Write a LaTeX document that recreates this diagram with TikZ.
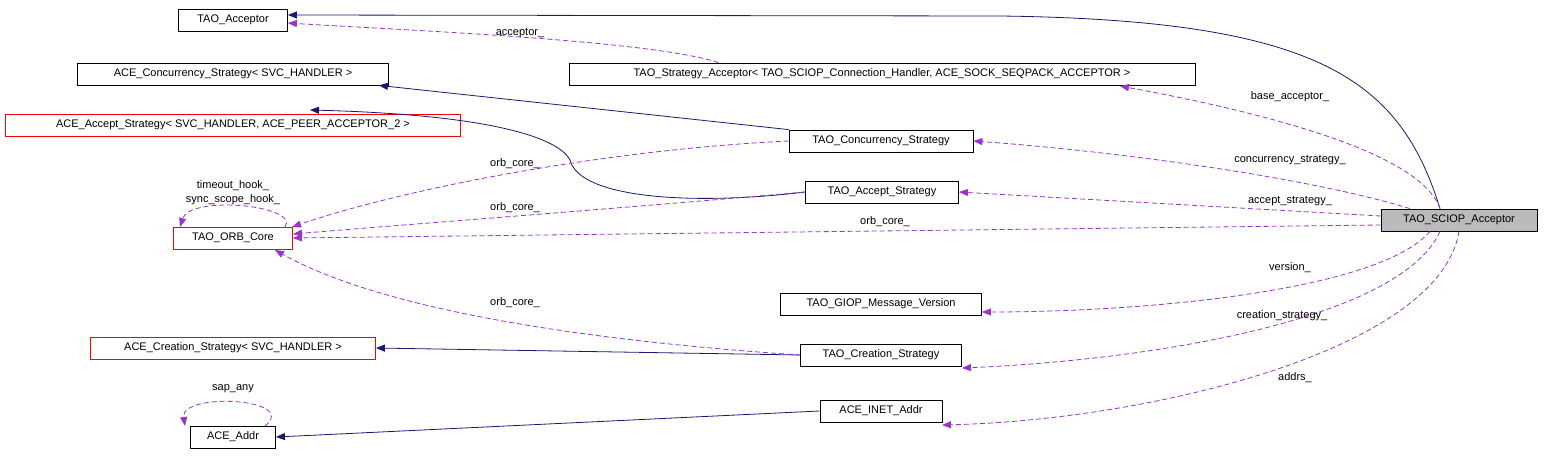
\documentclass[tikz,border=0pt]{standalone}
\usepackage{fontspec}
\setmainfont{Liberation Sans}
\usetikzlibrary{arrows.meta}
\definecolor{nv}{HTML}{191970}
\definecolor{pu}{HTML}{9A32CD}
\begin{document}
\begin{tikzpicture}[x=1pt,y=-1pt,
 every node/.style={font=\fontsize{11}{13}\selectfont},
 box/.style={draw,line width=0.8pt,minimum height=22pt,inner sep=0pt},
 red/.style={box,draw=red},
 inh/.style={draw=nv,line width=0.8pt,-{Triangle[length=9pt,width=7pt]}},
 use/.style={draw=pu,line width=0.8pt,dash pattern=on 5pt off 3pt,-{Triangle[length=9pt,width=7pt]}},
 lab/.style={fill=none,inner sep=1pt}]
\useasboundingbox (0,0) rectangle (1544,455);
\node[box,minimum width=109pt] (ta) at (233,20) {TAO\_Acceptor};
\node[box,minimum width=626pt] (tsa) at (882,74) {TAO\_Strategy\_Acceptor< TAO\_SCIOP\_Connection\_Handler, ACE\_SOCK\_SEQPACK\_ACCEPTOR >};
\node[box,minimum width=311pt] (acs) at (233,74) {ACE\_Concurrency\_Strategy< SVC\_HANDLER >};
\node[red,minimum width=455pt] (aas) at (233,125) {ACE\_Accept\_Strategy< SVC\_HANDLER, ACE\_PEER\_ACCEPTOR\_2 >};
\node[box,minimum width=184pt] (tcs) at (881,141) {TAO\_Concurrency\_Strategy};
\node[box,minimum width=153pt] (tas) at (882,192) {TAO\_Accept\_Strategy};
\node[red,minimum width=119pt] (orb) at (233,238) {TAO\_ORB\_Core};
\node[box,fill=black!27,minimum width=156pt] (sc) at (1459,220) {TAO\_SCIOP\_Acceptor};
\node[box,minimum width=201pt] (giop) at (881,304) {TAO\_GIOP\_Message\_Version};
\node[red,minimum width=285pt] (acr) at (233,348) {ACE\_Creation\_Strategy< SVC\_HANDLER >};
\node[box,minimum width=161pt] (tcr) at (881,355) {TAO\_Creation\_Strategy};
\node[box,minimum width=122pt] (inet) at (881,411) {ACE\_INET\_Addr};
\node[box,minimum width=85pt] (addr) at (233,437) {ACE\_Addr};

\draw[inh] ([xshift=-19pt]sc.north) .. controls (1400,80) and (1320,20) .. (1000,16) -- (ta.east |- 0,15);
\draw[inh] (tcs.north west) -- ([xshift=-10pt]acs.south east);
\draw[inh] (tas.west) .. controls (700,205) and (580,200) .. (570,160) .. controls (560,140) and (500,115) .. (310,110);
\draw[inh] (tcr.west) -- (acr.east);
\draw[inh] (inet.west) -- (addr.east);

\draw[use] ([xshift=150pt]tsa.north west) .. controls (650,40) and (400,30) .. (ta.east |- 0,23);
\node[lab] at (520,33) {acceptor\_};
\draw[use] ([xshift=-19pt]sc.north) .. controls (1420,150) and (1250,110) .. (1120,86);
\node[lab] at (1290,97) {base\_acceptor\_};
\draw[use] ([xshift=-49pt]sc.north) .. controls (1300,175) and (1100,150) .. (tcs.east);
\node[lab] at (1290,160) {concurrency\_strategy\_};
\draw[use] ([yshift=4pt]sc.west) -- (tas.east);
\node[lab] at (1290,201) {accept\_strategy\_};
\draw[use] ([yshift=-5pt]sc.west) -- (orb.east);
\node[lab] at (885,222) {orb\_core\_};
\draw[use] ([xshift=-29pt]sc.south) .. controls (1380,290) and (1150,312) .. (giop.east |- 0,312);
\node[lab] at (1290,268) {version\_};
\draw[use] ([xshift=-19pt]sc.south) .. controls (1400,320) and (1150,360) .. (962,368);
\node[lab] at (1282,316) {creation\_strategy\_};
\draw[use] (sc.south) .. controls (1440,350) and (1150,420) .. (942,425);
\node[lab] at (1295,378) {addrs\_};
\draw[use] (tcs.west) .. controls (600,150) and (400,190) .. (292,227);
\node[lab] at (515,164) {orb\_core\_};
\draw[use] (tas.west) .. controls (600,210) and (400,225) .. (293,234);
\node[lab] at (515,208) {orb\_core\_};
\draw[use] (tcr.west) .. controls (650,345) and (400,320) .. (275,250);
\node[lab] at (515,303) {orb\_core\_};
\draw[use] (285,227) .. controls (300,205) and (190,195) .. (180,227);
\node[lab] at (233,186) {timeout\_hook\_};
\node[lab] at (233,200) {sync\_scope\_hook\_};
\draw[use] (265,426) .. controls (300,398) and (180,392) .. (185,426);
\node[lab] at (233,389) {sap\_any};
\end{tikzpicture}
\end{document}
